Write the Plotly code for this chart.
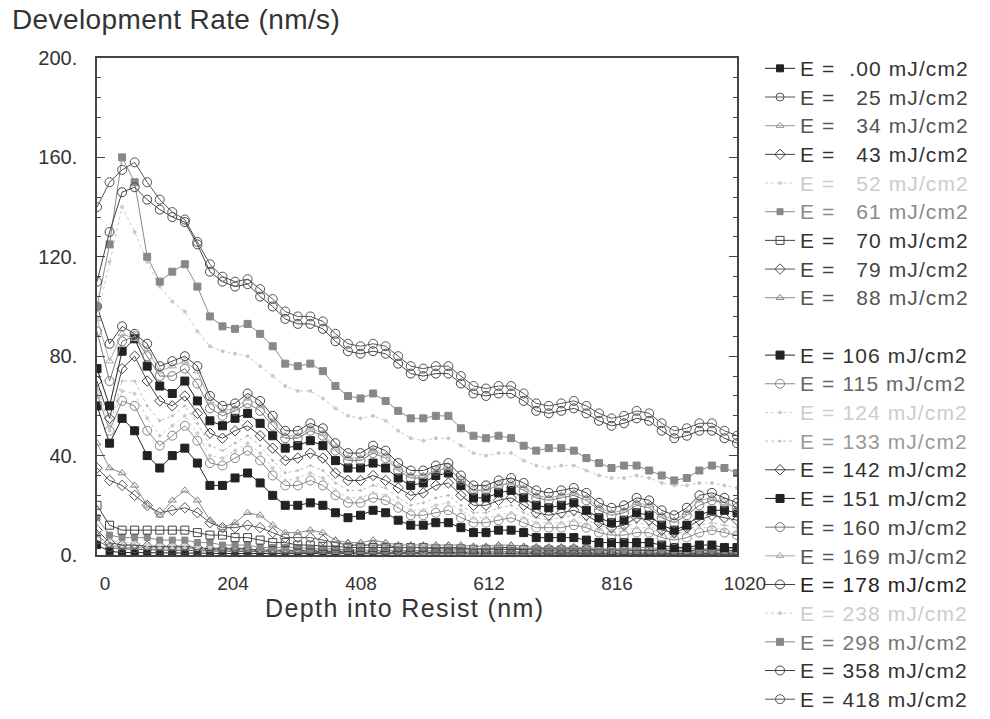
import plotly.graph_objects as go

depth = [0, 20, 40, 60, 80, 100, 120, 140, 160, 180,
         200, 220, 240, 260, 280, 300, 320, 340, 360, 380,
         400, 420, 440, 460, 480, 500, 520, 540, 560, 580,
         600, 620, 640, 660, 680, 700, 720, 740, 760, 780,
         800, 820, 840, 860, 880, 900, 920, 940, 960, 980,
         1000, 1020]

doses = [".00", "25", "34", "43", "52", "61", "70", "79", "88",
         "106", "115", "124", "133", "142", "151", "160", "169", "178",
         "238", "298", "358", "418"]

r000 = [4, 1.5, 1, 1, 0.9, 0.8, 0.8, 0.8, 0.7, 0.7,
        0.6, 0.6, 0.6, 0.6, 0.5, 0.5, 0.5, 0.5, 0.5, 0.5,
        0.4, 0.4, 0.4, 0.4, 0.4, 0.4, 0.4, 0.4, 0.3, 0.3,
        0.3, 0.3, 0.3, 0.3, 0.3, 0.3, 0.3, 0.3, 0.3, 0.3,
        0.3, 0.3, 0.3, 0.3, 0.3, 0.3, 0.3, 0.3, 0.3, 0.3,
        0.3, 0.3]
r025 = [6, 3, 2.5, 2.5, 2.2, 2, 2, 2, 1.8, 1.6,
        1.5, 1.5, 1.5, 1.3, 1.2, 1.1, 1.1, 1.1, 1, 1,
        0.9, 0.9, 0.9, 0.8, 0.8, 0.8, 0.7, 0.7, 0.7, 0.7,
        0.6, 0.6, 0.6, 0.6, 0.6, 0.5, 0.5, 0.5, 0.5, 0.5,
        0.5, 0.4, 0.4, 0.4, 0.4, 0.4, 0.4, 0.4, 0.4, 0.4,
        0.4, 0.4]
r034 = [8, 4, 3, 3, 3, 2.8, 2.8, 2.8, 2.5, 2.2,
        2, 2, 2, 1.8, 1.6, 1.5, 1.5, 1.5, 1.4, 1.3,
        1.2, 1.2, 1.2, 1.1, 1, 1, 0.9, 0.9, 0.9, 0.9,
        0.8, 0.8, 0.8, 0.8, 0.7, 0.7, 0.7, 0.7, 0.7, 0.6,
        0.6, 0.6, 0.6, 0.6, 0.6, 0.5, 0.5, 0.5, 0.5, 0.5,
        0.5, 0.5]
r043 = [10, 5, 4, 4, 3.5, 3.5, 3.5, 3.5, 3, 2.5,
        2.5, 2.5, 2.5, 2, 2, 1.8, 1.8, 1.8, 1.6, 1.5,
        1.4, 1.4, 1.4, 1.3, 1.2, 1.1, 1.1, 1.1, 1.1, 1,
        1, 1, 1, 1, 0.9, 0.9, 0.9, 0.9, 0.9, 0.8,
        0.8, 0.8, 0.8, 0.8, 0.8, 0.7, 0.7, 0.7, 0.7, 0.7,
        0.7, 0.7]
r052 = [12, 6, 5, 5, 4, 4, 4, 4, 3, 3,
        3, 3, 3, 2, 2, 2, 2, 2, 2, 2,
        1.5, 1.5, 1.5, 1.5, 1.4, 1.3, 1.3, 1.3, 1.2, 1.2,
        1.1, 1.1, 1.1, 1.1, 1, 1, 1, 1, 1, 1,
        1, 1, 1, 1, 1, 0.9, 0.9, 0.9, 0.9, 0.9,
        0.9, 0.9]
r061 = [15, 8, 7, 7, 7, 6, 6, 6, 5, 5,
        4, 4, 4, 3, 3, 3, 3, 2.5, 2.5, 2.5,
        2, 2, 2, 2, 2, 2, 1.8, 1.8, 1.7, 1.6,
        1.5, 1.5, 1.5, 1.4, 1.4, 1.3, 1.3, 1.3, 1.3, 1.2,
        1.2, 1.2, 1.2, 1.2, 1.1, 1.1, 1.1, 1.1, 1.1, 1.1,
        1.1, 1.1]
r070 = [20, 12, 10, 10, 10, 10, 10, 10, 9, 8,
        8, 7, 7, 6, 5, 5, 4, 4, 3.5, 3.5,
        3, 3, 3, 3, 3, 3, 3, 2.5, 2.5, 2.5,
        2.3, 2.3, 2.3, 2.2, 2.2, 2, 2, 2, 2, 2,
        2, 1.8, 1.8, 1.8, 1.8, 1.8, 1.7, 1.7, 1.7, 1.7,
        1.7, 1.7]
r079 = [35, 30, 28, 24, 20, 17, 18, 19, 17, 13,
        11, 11, 12, 11, 9, 7, 7, 7, 6, 5,
        4, 4, 4, 4, 3, 3, 3, 3, 3, 3,
        2.5, 2.5, 3, 3, 2.5, 2.5, 2.5, 2.5, 2.5, 2.5,
        2, 2, 2, 2, 2, 2, 1.5, 1.5, 2, 2,
        2, 1.5]
r088 = [45, 35, 33, 28, 20, 16, 22, 26, 22, 14,
        11, 13, 17, 16, 12, 9, 9, 10, 9, 6,
        5, 5, 6, 5, 4, 4, 4, 4, 4, 4,
        3.5, 3.5, 4, 4, 3.5, 3, 3, 3, 3, 3,
        2.5, 2.5, 2.5, 3, 3, 2.5, 2.5, 2.5, 2.5, 2.5,
        2.5, 2.5]
r106 = [60, 45, 55, 50, 40, 35, 40, 43, 37, 28,
        28, 31, 33, 29, 24, 20, 20, 21, 20, 17,
        15, 16, 18, 17, 14, 12, 12, 13, 13, 11,
        9, 9, 10, 10, 9, 7, 7, 7, 7, 6,
        5, 5, 5, 5, 5, 4, 3, 3, 4, 4,
        3, 3]
r115 = [65, 50, 62, 60, 50, 44, 48, 52, 46, 37,
        36, 39, 42, 38, 32, 28, 28, 30, 28, 24,
        21, 21, 23, 22, 19, 16, 16, 17, 18, 15,
        13, 13, 14, 15, 13, 11, 11, 11, 12, 11,
        9, 8, 8, 9, 9, 7, 6, 7, 9, 10,
        9, 8]
r124 = [66, 50, 66, 65, 55, 48, 52, 56, 49, 40,
        39, 42, 45, 41, 35, 30, 31, 33, 31, 26,
        23, 23, 25, 24, 21, 18, 18, 20, 21, 18,
        15, 15, 16, 17, 15, 13, 13, 13, 14, 12,
        10, 9, 10, 11, 11, 8, 7, 9, 11, 11,
        10, 9]
r133 = [68, 52, 70, 70, 60, 54, 56, 60, 53, 44,
        42, 45, 48, 44, 38, 33, 34, 36, 34, 29,
        26, 26, 28, 27, 23, 20, 21, 23, 24, 20,
        17, 17, 19, 20, 17, 15, 14, 15, 16, 14,
        12, 10, 11, 13, 12, 9, 8, 10, 12, 13,
        12, 11]
r142 = [70, 55, 75, 80, 70, 62, 60, 64, 57, 49,
        47, 50, 52, 48, 43, 38, 39, 41, 39, 33,
        30, 30, 32, 30, 27, 24, 25, 28, 29, 24,
        20, 20, 22, 23, 20, 17, 16, 17, 18, 16,
        13, 11, 12, 15, 14, 10, 9, 11, 14, 16,
        15, 14]
r151 = [75, 60, 82, 87, 76, 68, 65, 70, 62, 54,
        52, 55, 57, 53, 48, 43, 44, 46, 44, 38,
        35, 35, 37, 35, 31, 28, 29, 32, 33, 28,
        23, 23, 25, 26, 23, 20, 19, 20, 21, 18,
        15, 13, 14, 17, 16, 12, 10, 12, 16, 18,
        18, 17]
r160 = [90, 70, 86, 88, 80, 72, 72, 75, 69, 59,
        56, 58, 61, 58, 52, 47, 47, 50, 48, 42,
        38, 38, 41, 39, 34, 31, 31, 34, 35, 30,
        26, 26, 28, 29, 26, 23, 22, 23, 24, 22,
        18, 16, 17, 20, 19, 15, 13, 16, 20, 22,
        21, 19]
r169 = [95, 78, 89, 87, 83, 74, 76, 78, 74, 62,
        58, 59, 63, 60, 54, 48, 48, 51, 49, 43,
        39, 39, 42, 40, 35, 32, 32, 34, 35, 30,
        26, 26, 28, 29, 27, 24, 23, 24, 25, 23,
        19, 17, 18, 21, 20, 16, 14, 17, 22, 23,
        21, 19]
r178 = [100, 85, 92, 89, 85, 76, 78, 80, 76, 64,
        60, 61, 65, 62, 56, 50, 50, 53, 51, 45,
        41, 41, 44, 42, 37, 34, 34, 36, 37, 32,
        28, 28, 30, 31, 29, 26, 25, 26, 27, 25,
        21, 19, 20, 23, 22, 18, 16, 19, 24, 25,
        23, 21]
r238 = [95, 118, 140, 130, 118, 108, 102, 98, 90, 84,
        82, 81, 80, 76, 72, 68, 66, 66, 63, 59,
        56, 55, 56, 54, 50, 47, 46, 47, 47, 44,
        41, 40, 41, 41, 38, 36, 35, 36, 36, 34,
        32, 31, 31, 32, 31, 29, 28, 28, 29, 29,
        28, 27]
r298 = [100, 125, 160, 150, 120, 110, 114, 117, 108, 96,
        92, 91, 93, 89, 84, 77, 76, 77, 74, 68,
        64, 63, 65, 62, 58, 55, 55, 56, 56, 51,
        48, 47, 48, 47, 44, 42, 43, 43, 42, 39,
        37, 35, 36, 36, 34, 32, 30, 31, 34, 36,
        35, 33]
r358 = [110, 130, 146, 148, 143, 139, 136, 134, 125, 114,
        110, 108, 109, 104, 100, 95, 93, 93, 91, 86,
        82, 81, 82, 81, 77, 73, 72, 73, 73, 69,
        65, 64, 65, 65, 62, 58, 57, 58, 59, 57,
        54, 52, 53, 55, 54, 50, 47, 48, 50, 50,
        47, 45]
r418 = [140, 150, 155, 158, 150, 143, 138, 135, 126, 117,
        112, 110, 111, 107, 103, 98, 96, 96, 94, 89,
        85, 84, 85, 84, 80, 76, 75, 76, 76, 72,
        68, 67, 68, 68, 65, 61, 60, 61, 62, 60,
        57, 55, 56, 58, 57, 53, 50, 51, 53, 53,
        50, 48]

rates = [r000, r025, r034, r043, r052, r061, r070, r079, r088,
         r106, r115, r124, r133, r142, r151, r160, r169, r178,
         r238, r298, r358, r418]

# style per series: (line colour, marker symbol, marker size, dash, legend text colour)
styles = [
    ("#222222", "square", 7, "solid", "#333333"),
    ("#555555", "circle-open", 8, "solid", "#444444"),
    ("#999999", "triangle-up-open", 7, "solid", "#555555"),
    ("#444444", "diamond-open", 8, "solid", "#333333"),
    ("#d0d0d0", "circle", 3, "dot", "#cccccc"),
    ("#888888", "square", 6, "solid", "#8a8a8a"),
    ("#444444", "square-open", 8, "solid", "#333333"),
    ("#555555", "diamond-open", 8, "solid", "#444444"),
    ("#888888", "triangle-up-open", 7, "solid", "#555555"),
    ("#222222", "square", 8, "solid", "#333333"),
    ("#888888", "circle-open", 9, "solid", "#666666"),
    ("#cccccc", "circle", 3, "dot", "#cccccc"),
    ("#bbbbbb", "circle", 2, "dot", "#999999"),
    ("#444444", "diamond-open", 8, "solid", "#333333"),
    ("#222222", "square", 8, "solid", "#333333"),
    ("#777777", "circle-open", 9, "solid", "#444444"),
    ("#aaaaaa", "triangle-up-open", 7, "solid", "#555555"),
    ("#444444", "circle-open", 9, "solid", "#222222"),
    ("#c8c8c8", "circle", 3, "dot", "#cccccc"),
    ("#888888", "square", 7, "solid", "#777777"),
    ("#444444", "circle-open", 9, "solid", "#333333"),
    ("#555555", "circle-open", 9, "solid", "#333333"),
]

NB = "\u00a0"


def label(d):
    if d.startswith("."):
        num = NB + d
    elif len(d) == 2:
        num = NB + NB + d
    else:
        num = d
    return "E" + NB + "=" + NB + num + NB + "mJ/cm2"


fig = go.Figure()
for i, (d, r, st) in enumerate(zip(doses, rates, styles)):
    col, sym, ms, dash, tcol = st
    fig.add_trace(go.Scatter(
        x=depth, y=r, mode="lines+markers",
        name='<span style="color:%s;font-size:21px;letter-spacing:1.1px">%s</span>' % (tcol, label(d)),
        line=dict(color=col, width=1, dash=dash),
        marker=dict(symbol=sym, size=ms, color=col, line=dict(color=col, width=1)),
    ))
    if d == "88":
        # blank legend row separating the two dose groups
        fig.add_trace(go.Scatter(x=[None], y=[None], mode="lines", name=NB,
                                 line=dict(color="rgba(0,0,0,0)", width=0),
                                 hoverinfo="skip"))

FONT = "Liberation Sans, Arial, Helvetica, sans-serif"

fig.update_layout(
    width=990, height=719,
    margin=dict(l=97, r=253, t=58, b=164),
    paper_bgcolor="white", plot_bgcolor="white",
    font=dict(family=FONT, color="#333333"),
    showlegend=True,
    legend=dict(x=1.036, xanchor="left", y=1.002, yanchor="top",
                maxheight=719,
                font=dict(size=19.75, family=FONT, color="#333333"),
                itemwidth=30, bgcolor="rgba(0,0,0,0)", tracegroupgap=0),
    annotations=[
        dict(text='<span style="letter-spacing:0.4px">Development Rate (nm/s)</span>',
             xref="paper", yref="paper",
             x=-0.136, y=1.0765, xanchor="left", yanchor="middle",
             showarrow=False, font=dict(size=28, family=FONT, color="#333333")),
        dict(text='<span style="letter-spacing:1.4px">Depth into Resist (nm)</span>',
             xref="paper", yref="paper",
             x=0.481, y=-0.1066, xanchor="center", yanchor="middle",
             showarrow=False, font=dict(size=25, family=FONT, color="#333333")),
    ],
)

fig.update_xaxes(
    range=[0, 1020], tickvals=[0, 204, 408, 612, 816, 1020],
    ticktext=["0", "204", "408", "612", "816", "1020"],
    ticks="inside", ticklen=6, tickcolor="#444444",
    showline=True, linecolor="#444444", linewidth=1.5, mirror=True,
    showgrid=False, zeroline=False,
    tickfont=dict(size=19, family=FONT, color="#333333"),
    ticklabelshift=8, ticklabelstandoff=10,
)
fig.update_yaxes(
    range=[0, 200], tickvals=[0, 40, 80, 120, 160, 200],
    ticktext=["0.", "40.", "80.", "120.", "160.", "200."],
    ticks="inside", ticklen=8, tickcolor="#444444",
    minor=dict(ticks="inside", ticklen=4, dtick=8, tick0=0, tickcolor="#444444"),
    showline=True, linecolor="#444444", linewidth=1.5, mirror="ticks",
    showgrid=False, zeroline=False,
    tickfont=dict(size=20, family=FONT, color="#333333"),
    ticklabelstandoff=14,
)

fig.write_html("out.html")
